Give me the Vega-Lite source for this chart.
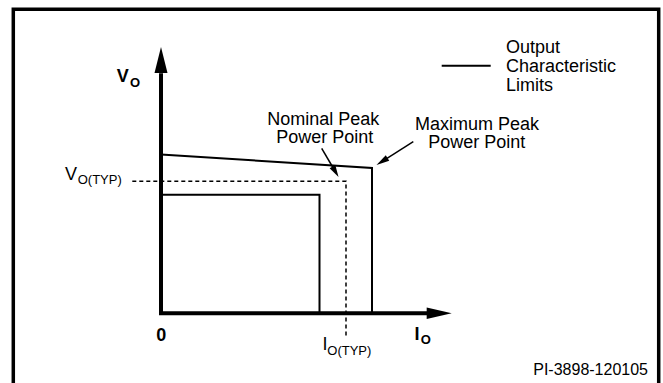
{
  "$schema": "https://vega.github.io/schema/vega-lite/v6.json",
  "width": 663,
  "height": 383,
  "padding": 0,
  "autosize": {"type": "none"},
  "background": "white",
  "config": {"view": {"stroke": null}, "text": {"font": "Liberation Sans", "color": "black"}},
  "datasets": {
    "border": [
      {"x": -14.77, "y": -8.2, "o": 0},
      {"x": -14.77, "y": 30.41, "o": 1},
      {"x": 49.77, "y": 30.41, "o": 2},
      {"x": 49.77, "y": -8.2, "o": 3}
    ],
    "axes": [
      {"x": 0, "y": 24.0, "o": 0},
      {"x": 0, "y": 0, "o": 1},
      {"x": 26.8, "y": 0, "o": 2}
    ],
    "limits": [
      {"path": "maximum", "x": 0, "y": 15.88, "o": 0},
      {"path": "maximum", "x": 21.1, "y": 14.53, "o": 1},
      {"path": "maximum", "x": 21.1, "y": 0, "o": 2},
      {"path": "minimum", "x": 0, "y": 11.86, "o": 0},
      {"path": "minimum", "x": 15.85, "y": 11.86, "o": 1},
      {"path": "minimum", "x": 15.85, "y": 0, "o": 2}
    ],
    "typical": [
      {"x": -2.87, "y": 13.2, "o": 0},
      {"x": 18.5, "y": 13.2, "o": 1},
      {"x": 18.5, "y": -2.32, "o": 2}
    ],
    "legendLine": [
      {"x": 28.07, "y": 24.76, "o": 0},
      {"x": 32.97, "y": 24.76, "o": 1}
    ],
    "shafts": [
      {"path": "nominal", "x": 16.07, "y": 16.5, "o": 0},
      {"path": "nominal", "x": 17.25, "y": 14.48, "o": 1},
      {"path": "max", "x": 25.23, "y": 17.16, "o": 0},
      {"path": "max", "x": 22.48, "y": 15.42, "o": 1}
    ],
    "yHead": [{"x": 0, "y": 25.33}],
    "xHead": [{"x": 27.82, "y": 0}],
    "nomHead": [{"x": 17.45, "y": 14.15}],
    "maxHead": [{"x": 22.1, "y": 15.18}],
    "centerLabels": [
      {"x": 16.23, "y": 18.83, "t": "Nominal Peak"},
      {"x": 16.37, "y": 17.0, "t": "Power Point"},
      {"x": 31.6, "y": 18.33, "t": "Maximum Peak"},
      {"x": 31.57, "y": 16.5, "t": "Power Point"}
    ],
    "legendText": [
      {"x": 34.5, "y": 26.0, "t": "Output"},
      {"x": 34.5, "y": 24.1, "t": "Characteristic"},
      {"x": 34.5, "y": 22.23, "t": "Limits"}
    ],
    "note": [{"x": 48.7, "y": -6.17, "t": "PI-3898-120105"}],
    "boldBig": [
      {"x": -4.43, "y": 23.16, "t": "V"},
      {"x": 25.35, "y": -2.67, "t": "I"}
    ],
    "zero": [{"x": 0.03, "y": -2.77, "t": "0"}],
    "boldSub": [
      {"x": -3.1, "y": 22.6, "t": "O"},
      {"x": 25.97, "y": -3.1, "t": "O"}
    ],
    "regBig": [
      {"x": -9.6, "y": 13.33, "t": "V"},
      {"x": 16.15, "y": -3.67, "t": "I"}
    ],
    "regSub": [
      {"x": -8.33, "y": 12.9, "t": "O(TYP)"},
      {"x": 16.63, "y": -4.17, "t": "O(TYP)"}
    ]
  },
  "encoding": {
    "x": {"field": "x", "type": "quantitative", "scale": {"domain": [-16.1, 50.2], "nice": false, "zero": false}, "axis": null},
    "y": {"field": "y", "type": "quantitative", "scale": {"domain": [-6.97, 31.33], "nice": false, "zero": false}, "axis": null}
  },
  "layer": [
    {"data": {"name": "border"}, "mark": {"type": "line", "color": "black", "strokeWidth": 3.5, "strokeJoin": "miter"}, "encoding": {"order": {"field": "o"}}},
    {"data": {"name": "axes"}, "mark": {"type": "line", "color": "black", "strokeWidth": 4, "strokeJoin": "miter"}, "encoding": {"order": {"field": "o"}}},
    {"data": {"name": "limits"}, "mark": {"type": "line", "color": "black", "strokeWidth": 2, "strokeJoin": "miter"}, "encoding": {"order": {"field": "o"}, "detail": {"field": "path"}}},
    {"data": {"name": "typical"}, "mark": {"type": "line", "color": "black", "strokeWidth": 1.5, "strokeDash": [4, 3]}, "encoding": {"order": {"field": "o"}}},
    {"data": {"name": "legendLine"}, "mark": {"type": "line", "color": "black", "strokeWidth": 2}, "encoding": {"order": {"field": "o"}}},
    {"data": {"name": "shafts"}, "mark": {"type": "line", "color": "black", "strokeWidth": 1.5}, "encoding": {"order": {"field": "o"}, "detail": {"field": "path"}}},
    {"data": {"name": "yHead"}, "mark": {"type": "point", "shape": "M0,-1L0.5,1L-0.5,1Z", "size": 676, "filled": true, "color": "black", "opacity": 1, "strokeWidth": 0}},
    {"data": {"name": "xHead"}, "mark": {"type": "point", "shape": "M1,0L-1,-0.46L-1,0.46Z", "size": 625, "filled": true, "color": "black", "opacity": 1, "strokeWidth": 0}},
    {"data": {"name": "nomHead"}, "mark": {"type": "point", "shape": "M0,-1L0.55,1L-0.55,1Z", "size": 144, "angle": 149.7, "filled": true, "color": "black", "opacity": 1, "strokeWidth": 0}},
    {"data": {"name": "maxHead"}, "mark": {"type": "point", "shape": "M0,-1L0.5,1L-0.5,1Z", "size": 169, "angle": 237.7, "filled": true, "color": "black", "opacity": 1, "strokeWidth": 0}},
    {"data": {"name": "centerLabels"}, "mark": {"type": "text", "fontSize": 18, "align": "center", "baseline": "alphabetic"}, "encoding": {"text": {"field": "t"}}},
    {"data": {"name": "legendText"}, "mark": {"type": "text", "fontSize": 18, "align": "left", "baseline": "alphabetic"}, "encoding": {"text": {"field": "t"}}},
    {"data": {"name": "note"}, "mark": {"type": "text", "fontSize": 16, "align": "right", "baseline": "alphabetic"}, "encoding": {"text": {"field": "t"}}},
    {"data": {"name": "boldBig"}, "mark": {"type": "text", "fontSize": 18, "fontWeight": "bold", "align": "left", "baseline": "alphabetic"}, "encoding": {"text": {"field": "t"}}},
    {"data": {"name": "zero"}, "mark": {"type": "text", "fontSize": 18, "fontWeight": "bold", "align": "center", "baseline": "alphabetic"}, "encoding": {"text": {"field": "t"}}},
    {"data": {"name": "boldSub"}, "mark": {"type": "text", "fontSize": 13, "fontWeight": "bold", "align": "left", "baseline": "alphabetic"}, "encoding": {"text": {"field": "t"}}},
    {"data": {"name": "regBig"}, "mark": {"type": "text", "fontSize": 18, "align": "left", "baseline": "alphabetic"}, "encoding": {"text": {"field": "t"}}},
    {"data": {"name": "regSub"}, "mark": {"type": "text", "fontSize": 13, "align": "left", "baseline": "alphabetic"}, "encoding": {"text": {"field": "t"}}}
  ]
}
